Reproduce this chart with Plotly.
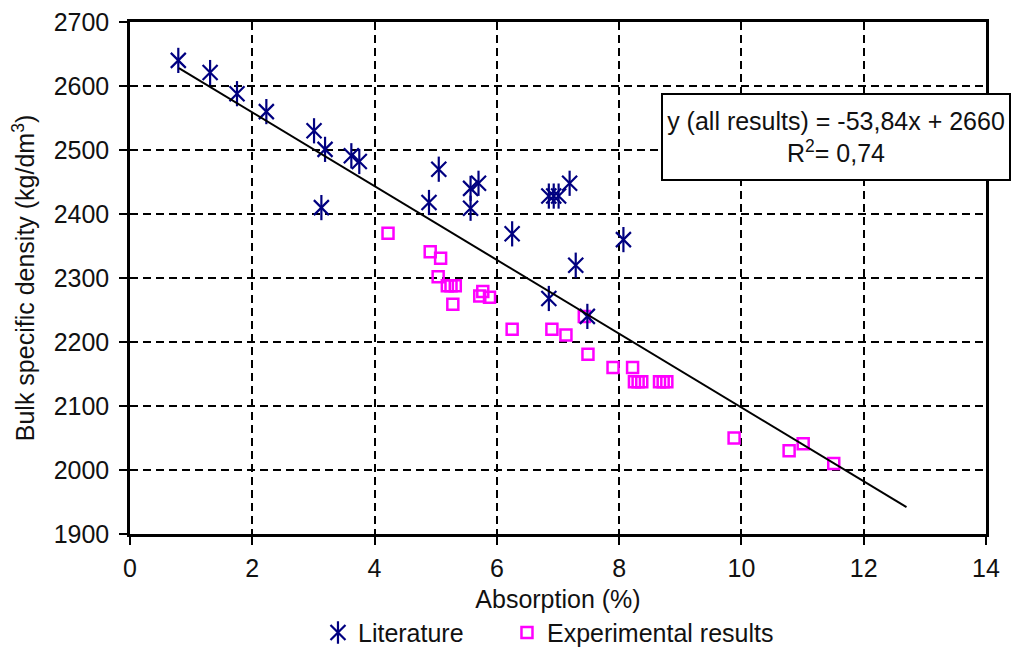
import plotly.graph_objects as go

# Literature data (asterisks)
lit_x = [0.79, 1.31, 1.75, 2.23, 3.01, 3.19, 3.13, 3.62, 3.75, 4.89, 5.05, 5.57, 5.57, 5.70,
         6.25, 6.85, 6.93, 7.01, 7.19, 7.29, 8.07, 6.85, 7.48]
lit_y = [2640, 2621, 2588, 2560, 2530, 2501, 2410, 2491, 2482, 2418, 2470, 2440, 2409, 2448,
         2369, 2428, 2428, 2428, 2448, 2320, 2360, 2268, 2240]

# Experimental results (open squares)
exp_x = [4.22, 4.91, 5.08, 5.04, 5.19, 5.25, 5.32, 5.28, 5.77, 5.72, 5.88, 6.25, 6.90, 7.13,
         7.43, 7.49, 7.90, 8.22, 8.25, 8.31, 8.37, 8.66, 8.72, 8.78, 9.88, 10.78, 11.01, 11.51]
exp_y = [2370, 2341, 2331, 2302, 2288, 2288, 2288, 2259, 2279, 2272, 2270, 2220, 2220, 2211,
         2240, 2181, 2160, 2160, 2138, 2138, 2138, 2138, 2138, 2138, 2050, 2030, 2041, 2010]

# Trend line (as drawn)
trend_x = [0.8, 12.7]
trend_y = [2628, 1942]

FONT = "Liberation Sans, Arial, sans-serif"
FS = 25
NAVY = "#000080"
MAGENTA = "#FF00FF"
TXT = "#111"

fig = go.Figure()
fig.add_trace(go.Scatter(
    x=exp_x, y=exp_y, mode="markers", name="Experimental results", legend="legend2",
    marker=dict(symbol="square-open", size=11, color=MAGENTA, line=dict(width=2.5, color=MAGENTA)),
))
fig.add_trace(go.Scatter(
    x=lit_x, y=lit_y, mode="markers", name="Literature", legend="legend",
    marker=dict(symbol="x-thin-open", size=15, color=NAVY, line=dict(width=2.2, color=NAVY)),
))
# vertical stroke of the asterisk (its legend symbol overlays the Literature symbol)
fig.add_trace(go.Scatter(
    x=lit_x, y=lit_y, mode="markers", name=" ", legend="legend3", showlegend=True,
    hoverinfo="skip",
    marker=dict(symbol="line-ns-open", size=18, color=NAVY, line=dict(width=2.2, color=NAVY)),
))
fig.add_trace(go.Scatter(
    x=trend_x, y=trend_y, mode="lines", showlegend=False,
    line=dict(color="black", width=2),
))

axis_common = dict(
    showline=True, mirror=True, linecolor="black", linewidth=2.5,
    showgrid=True, gridcolor="black", gridwidth=1.5, griddash="8px,5px",
    ticks="outside", ticklen=8, tickwidth=1.5, tickcolor="black",
    zeroline=False, automargin=False,
    tickfont=dict(family=FONT, size=FS, color=TXT),
)

fig.update_xaxes(
    range=[0, 14], dtick=2, tick0=0,
    title=dict(text="Absorption (%)", font=dict(family=FONT, size=FS, color=TXT), standoff=10),
    ticklabelstandoff=2,
    **axis_common,
)
fig.update_yaxes(
    range=[1900, 2700], dtick=100, tick0=1900,
    title=dict(text="Bulk specific density (kg/dm<sup>3</sup>)", font=dict(family=FONT, size=FS, color=TXT), standoff=12),
    ticklabelstandoff=5,
    **axis_common,
)

fig.add_annotation(
    xref="paper", yref="paper", x=0.6203, y=0.861, xanchor="left", yanchor="top",
    text="y (all results) = -53,84x + 2660<br>R<sup>2</sup>= 0,74",
    showarrow=False, align="center", valign="middle",
    width=340, height=78,
    font=dict(family=FONT, size=FS, color=TXT),
    bgcolor="white", bordercolor="black", borderwidth=2, borderpad=3,
)

legend_common = dict(
    orientation="h", xanchor="left", y=-0.193, yanchor="middle",
    font=dict(family=FONT, size=FS, color=TXT),
    bgcolor="rgba(0,0,0,0)",
)

fig.update_layout(
    width=1014, height=651,
    margin=dict(l=130, r=28, t=22, b=117, autoexpand=False),
    plot_bgcolor="white", paper_bgcolor="white",
    legend=dict(x=0.2196, **legend_common),
    legend2=dict(x=0.4404, **legend_common),
    legend3=dict(x=0.2196, **legend_common),
    font=dict(family=FONT),
)

fig.write_html("out.html")
